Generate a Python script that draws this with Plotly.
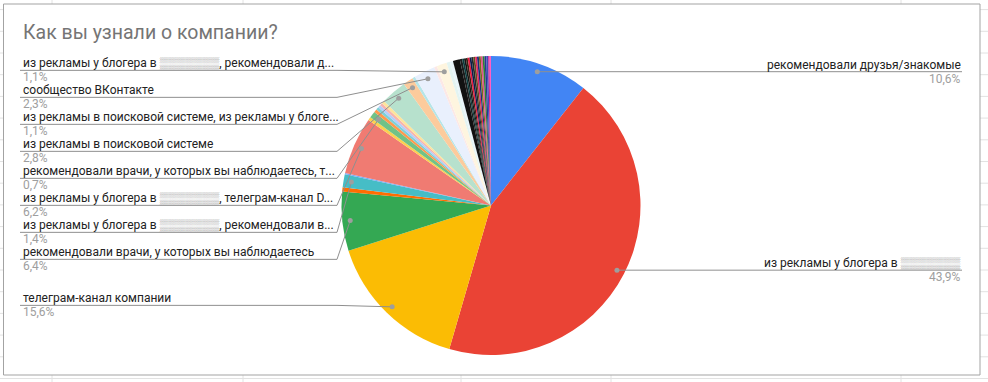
import math
import plotly.graph_objects as go

W, H = 988, 382
BLUR = "<span style='color:#9a9a9a'>▒▒▒▒▒▒▒</span>"

# ---------------- data ----------------
categories = [
    "рекомендовали друзья/знакомые",
    "из рекламы у блогера в " + BLUR,
    "телеграм-канал компании",
    "рекомендовали врачи, у которых вы наблюдаетесь",
    "прочее 1",
    "из рекламы у блогера в " + BLUR + ", рекомендовали в...",
    "прочее 2",
    "из рекламы у блогера в " + BLUR + ", телеграм-канал D...",
    "прочее 3",
    "рекомендовали врачи, у которых вы наблюдаетесь, т...",
    "прочее 4", "прочее 5", "прочее 6", "прочее 7", "прочее 8",
    "из рекламы в поисковой системе",
    "из рекламы в поисковой системе, из рекламы у блоге...",
    "прочее 9",
    "сообщество ВКонтакте",
    "прочее 10",
    "из рекламы у блогера в " + BLUR + ", рекомендовали д...",
    "прочее 11", "прочее 12",
    "прочее 13", "прочее 14", "прочее 15", "прочее 16", "прочее 17", "прочее 18",
    "прочее 19", "прочее 20", "прочее 21", "прочее 22", "прочее 23", "прочее 24",
    "прочее 25", "прочее 26", "прочее 27", "прочее 28", "прочее 29", "прочее 30",
]
values = [
    10.6, 43.9, 15.6, 6.4, 0.45, 1.4, 0.15, 6.2, 0.35, 0.7,
    0.35, 0.3, 0.3, 0.3, 0.3,
    2.8, 1.1, 0.3, 2.3, 0.3, 1.1, 0.35, 0.35,
    0.75, 0.25, 0.2, 0.2, 0.2, 0.2, 0.2, 0.2, 0.2, 0.2, 0.2, 0.2, 0.2, 0.2, 0.2, 0.2,
    0.15, 0.15,
]
colors = [
    "#4285F4", "#EA4335", "#FBBC04", "#34A853", "#FF6D01", "#46BDC6", "#7BAAF7",
    "#F07B72", "#FCD04F", "#71C287",
    "#FF994D", "#7ED1D7", "#B3CEFB", "#F7B4AE", "#FDE49B",
    "#B7E1CD", "#FCCB9C", "#B5E5E8", "#E9F0FD", "#FCE8E6", "#FEF5DF", "#E3F4F1", "#E8F5FA",
    "#111111", "#1c1c1c", "#0b3b3c", "#151515", "#3b2416", "#e8163a", "#0d1b4c",
    "#1f2a2e", "#6b4a1e", "#e0245e", "#1a2f7a", "#7a6a1a", "#e4508a", "#2e7d32",
    "#283593", "#3f51b5", "#d81b8c", "#ff5ec4",
]
shown = [not c.startswith("прочее") for c in categories]

# ---------------- geometry ----------------
CX, CY, R = 491.0, 205.5, 149.5
R_DOT = R * 0.947
LEFT_X, ELBOW_X, RIGHT_X = 20, 337, 962
STEP = 27.0

def px(x):
    return x / W

def py(y):
    return 1 - y / H

fig = go.Figure()
fig.add_trace(go.Pie(
    labels=categories, values=values, sort=False, direction="clockwise",
    rotation=0, textinfo="none", hoverinfo="label+percent",
    marker=dict(colors=colors, line=dict(width=0)),
    domain=dict(x=[px(CX - R), px(CX + R)], y=[py(CY + R), py(CY - R)]),
    showlegend=False,
))

shapes = []
annotations = []

# background spreadsheet grid
for gx in [52, 243, 461, 611, 901]:
    shapes.append(dict(type="line", xref="paper", yref="paper", x0=px(gx), x1=px(gx),
                       y0=0, y1=1, line=dict(color="#e2e2e2", width=1), layer="below"))
gy = 9.6
while gy < H:
    shapes.append(dict(type="line", xref="paper", yref="paper", x0=0, x1=1,
                       y0=py(gy), y1=py(gy), line=dict(color="#e2e2e2", width=1), layer="below"))
    gy += 21.7
shapes.append(dict(type="rect", xref="paper", yref="paper", x0=px(3.5), x1=px(980),
                   y0=py(375), y1=py(4), fillcolor="white",
                   line=dict(color="#a3a3a3", width=1), layer="below"))

annotations.append(dict(text="Как вы узнали о компании?", xref="paper", yref="paper",
                        x=px(21), y=py(33), xanchor="left", yanchor="middle", showarrow=False,
                        font=dict(family="Roboto, Arial", size=19.5, color="#757575")))

total = sum(values)
cum = 0.0
left, right = [], []
for name, v, s in zip(categories, values, shown):
    mid = (cum + v / 2) / total * 2 * math.pi
    cum += v
    if not s:
        continue
    dx = CX + R_DOT * math.sin(mid)
    dy = CY - R_DOT * math.cos(mid)
    pct = f"{v / total * 100:.1f}".replace(".", ",") + "%"
    (right if dx > CX else left).append((dy, dx, name, pct))

def add_label(x, y, name, pct, anchor):
    annotations.append(dict(text=name, xref="paper", yref="paper", x=px(x), y=py(y - 7),
                            xanchor=anchor, yanchor="middle", showarrow=False,
                            font=dict(family="Roboto, Arial", size=12, color="#222222")))
    annotations.append(dict(text=pct, xref="paper", yref="paper", x=px(x), y=py(y + 7),
                            xanchor=anchor, yanchor="middle", showarrow=False,
                            font=dict(family="Roboto, Arial", size=12, color="#9e9e9e")))

def seg(x0, y0, x1, y1):
    shapes.append(dict(type="line", xref="paper", yref="paper", x0=px(x0), y0=py(y0),
                       x1=px(x1), y1=py(y1), line=dict(color="#8f8f8f", width=1),
                       layer="above"))

def dot(x, y):
    shapes.append(dict(type="circle", xref="paper", yref="paper", x0=px(x - 2.5),
                       x1=px(x + 2.5), y0=py(y + 2.5), y1=py(y - 2.5),
                       fillcolor="#9e9e9e", line=dict(width=0), layer="above"))

for dy, dx, name, pct in right:
    seg(dx, dy, RIGHT_X, dy)
    dot(dx, dy)
    add_label(RIGHT_X + 1, dy, name, pct, "right")

left.sort()
prev = -1e9
for dy, dx, name, pct in left:
    ly = max(dy - 1.5, prev + STEP)
    prev = ly
    seg(LEFT_X, ly, ELBOW_X, ly)
    seg(ELBOW_X, ly, dx, dy)
    dot(dx, dy)
    add_label(LEFT_X + 1, ly, name, pct, "left")

fig.update_layout(
    width=W, height=H, margin=dict(l=0, r=0, t=0, b=0),
    paper_bgcolor="white", plot_bgcolor="white",
    shapes=shapes, annotations=annotations, showlegend=False,
)
fig.write_html("out.html", config={"displayModeBar": False},
               post_script="document.body.style.margin='0';document.body.style.overflow='hidden';")
